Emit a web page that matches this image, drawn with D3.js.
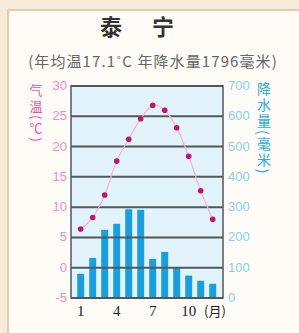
<!DOCTYPE html>
<html>
<head>
<meta charset="utf-8">
<script src="https://cdn.jsdelivr.net/npm/d3@7"></script>
<style>
body { margin: 0; background: #f6ead9; }
svg { display: block; }
</style>
</head>
<body>
<script>
var months = [1, 2, 3, 4, 5, 6, 7, 8, 9, 10, 11, 12];
var temps = [6.4, 8.3, 12.0, 17.6, 21.2, 24.6, 26.8, 26.0, 23.1, 18.4, 12.7, 8.0];
var rain = [80, 132, 225, 245, 293, 291, 129, 152, 102, 74, 57, 47];
var tempTicks = [-5, 0, 5, 10, 15, 20, 25, 30];
var rainTicks = [0, 100, 200, 300, 400, 500, 600, 700];
var monthLabels = [1, 4, 7, 10];

var width = 299, height = 333;
var plotL = 71, plotR = 223, plotT = 86, plotB = 298;

var svg = d3.select("body").append("svg")
    .attr("width", width)
    .attr("height", height);

// card
svg.append("rect")
    .attr("x", 8).attr("y", 10)
    .attr("width", 300).attr("height", 330)
    .attr("fill", "#fffbf7")
    .attr("stroke", "#e9c9b0")
    .attr("stroke-width", 2);

svg.append("text")
    .attr("x", 139).attr("y", 35)
    .attr("text-anchor", "middle")
    .attr("font-family", "Noto Sans CJK SC")
    .attr("font-size", 22)
    .attr("font-weight", "bold")
    .attr("fill", "#333")
    .attr("letter-spacing", 4)
    .text("泰\u3000宁");

svg.append("text")
    .attr("x", 153).attr("y", 67)
    .attr("text-anchor", "middle")
    .attr("font-family", "Noto Sans CJK SC")
    .attr("font-size", 15)
    .attr("letter-spacing", 1.1)
    .attr("fill", "#666")
    .text("(年均温17.1˚C  年降水量1796毫米)");

var x = d3.scaleBand()
    .domain(months)
    .range([74.7, 218.7])
    .paddingInner(0.42)
    .paddingOuter(0.21);

var yT = d3.scaleLinear().domain([-5, 30]).range([plotB, plotT]);
var yR = d3.scaleLinear().domain([0, 700]).range([plotB, plotT]);

svg.append("rect")
    .attr("x", plotL).attr("y", plotT)
    .attr("width", plotR - plotL).attr("height", plotB - plotT)
    .attr("fill", "#e2f3fb");

// bars
svg.selectAll(".bar")
    .data(rain)
    .enter().append("rect")
    .attr("class", "bar")
    .attr("x", function(d, i) { return x(months[i]); })
    .attr("width", x.bandwidth())
    .attr("y", function(d) { return yR(d); })
    .attr("height", function(d) { return yR(0) - yR(d); })
    .attr("fill", "#1a9fdc");

// grid
svg.selectAll(".grid")
    .data(tempTicks)
    .enter().append("line")
    .attr("x1", plotL).attr("x2", plotR)
    .attr("y1", function(d) { return yT(d); })
    .attr("y2", function(d) { return yT(d); })
    .attr("stroke", "#4f5a5e")
    .attr("stroke-width", 2);

svg.append("rect")
    .attr("x", plotL).attr("y", plotT)
    .attr("width", plotR - plotL).attr("height", plotB - plotT)
    .attr("fill", "none")
    .attr("stroke", "#4f5a5e")
    .attr("stroke-width", 1.5);

// temperature line
var line = d3.line()
    .x(function(d, i) { return x(months[i]) + x.bandwidth() / 2; })
    .y(function(d) { return yT(d); })
    .curve(d3.curveCardinal);

svg.append("path")
    .datum(temps)
    .attr("d", line)
    .attr("fill", "none")
    .attr("stroke", "#f6b3cf")
    .attr("stroke-width", 1.2);

svg.selectAll(".pt")
    .data(temps)
    .enter().append("circle")
    .attr("cx", function(d, i) { return x(months[i]) + x.bandwidth() / 2; })
    .attr("cy", function(d) { return yT(d); })
    .attr("r", 2.8)
    .attr("fill", "#c2136f");

// axis labels
svg.selectAll(".lt")
    .data(tempTicks)
    .enter().append("text")
    .attr("x", 67)
    .attr("y", function(d) { return yT(d) + 4; })
    .attr("text-anchor", "end")
    .attr("font-family", "Liberation Sans Narrow, Liberation Sans")
    .attr("font-size", 13)
    .attr("fill", "#f08cbc")
    .text(function(d) { return d; });

svg.selectAll(".rt")
    .data(rainTicks)
    .enter().append("text")
    .attr("x", 228)
    .attr("y", function(d) { return yR(d) + 4; })
    .attr("font-family", "Liberation Sans Narrow, Liberation Sans")
    .attr("font-size", 13)
    .attr("fill", "#86d0ec")
    .text(function(d) { return d; });

svg.selectAll(".mt")
    .data(monthLabels)
    .enter().append("text")
    .attr("x", function(d) { return x(d) + x.bandwidth() / 2; })
    .attr("y", 316)
    .attr("text-anchor", "middle")
    .attr("font-family", "Liberation Serif")
    .attr("font-size", 15)
    .attr("fill", "#222")
    .text(function(d) { return d; });

svg.append("text")
    .attr("x", 215).attr("y", 316)
    .attr("text-anchor", "middle")
    .attr("font-family", "Noto Sans CJK SC")
    .attr("font-size", 13)
    .attr("fill", "#222")
    .text("(月)");

// vertical titles
function vtitle(txt, cx, y0, size, spacing, color) {
    svg.append("text")
        .attr("x", cx).attr("y", y0)
        .style("writing-mode", "vertical-rl")
        .style("text-orientation", "mixed")
        .attr("font-family", "Noto Sans CJK SC")
        .attr("font-size", size)
        .attr("letter-spacing", spacing)
        .attr("fill", color)
        .text(txt);
}
vtitle("气温(℃)", 36, 84, 13, 2.5, "#e8549d");
vtitle("降水量(毫米)", 264, 82, 14, 2, "#2aa9e2");
</script>
</body>
</html>
